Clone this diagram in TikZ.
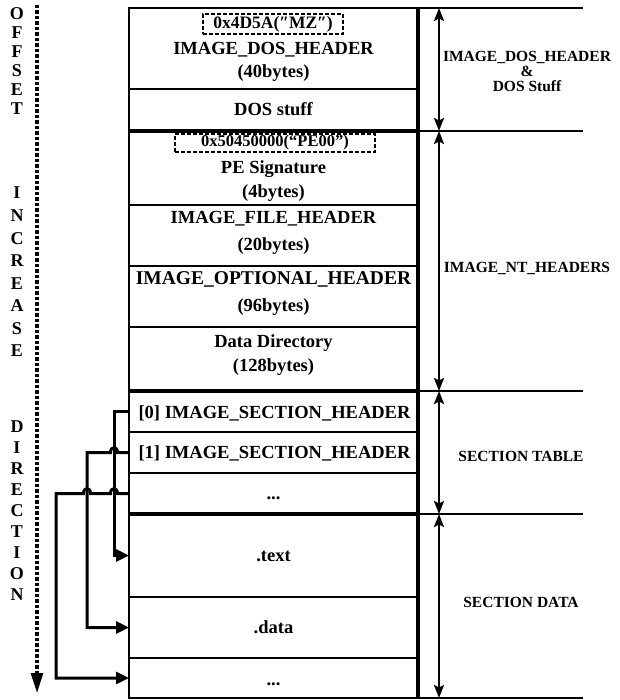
\documentclass[tikz,border=0pt]{standalone}
\usepackage{fontspec}
\setmainfont{Liberation Serif}
\usetikzlibrary{arrows.meta}
\begin{document}
\begin{tikzpicture}[x=1pt,y=-1pt,
  row/.style={draw, line width=2pt, minimum width=289pt, anchor=north west, inner sep=0pt, outer sep=0pt},
  txt/.style={font=\fontsize{18.5}{20}\selectfont\bfseries, anchor=base, inner sep=0pt},
  rlab/.style={font=\fontsize{15.5}{15}\selectfont\bfseries, anchor=base, inner sep=0pt},
  letter/.style={font=\fontsize{18}{18}\selectfont\bfseries, anchor=base, inner sep=0pt},
  dbox/.style={draw, dash pattern=on 4pt off 2pt, line width=2.2pt, inner sep=0pt, minimum height=20pt, font=\fontsize{17.5}{18}\selectfont\bfseries},
  sepline/.style={line width=3.2pt},
  guide/.style={line width=1.6pt},
  dbl/.style={line width=2.4pt, {Stealth[length=13pt,width=10pt,inset=2.5pt]}-{Stealth[length=13pt,width=10pt,inset=2.5pt]}},
  ptr/.style={line width=3pt, -{Triangle[length=13pt,width=12pt]}, line join=miter},
  offarrow/.style={line width=3.2pt, dash pattern=on 3.5pt off 2pt, -{Triangle[length=20pt,width=12pt]}},
]
\useasboundingbox (0,0) rectangle (619,700);

% rows of the main column
\node[row, minimum height=81pt] (r1) at (129,8) {};
\node[row, minimum height=42pt] (r2) at (129,89) {};
\node[row, minimum height=74pt] (r3) at (129,131) {};
\node[row, minimum height=61pt] (r4) at (129,205) {};
\node[row, minimum height=61pt] (r5) at (129,266) {};
\node[row, minimum height=64pt] (r6) at (129,327) {};
\node[row, minimum height=41pt] (r7) at (129,391) {};
\node[row, minimum height=41pt] (r8) at (129,432) {};
\node[row, minimum height=41pt] (r9) at (129,473) {};
\node[row, minimum height=83pt] (r10) at (129,514) {};
\node[row, minimum height=61pt] (r11) at (129,597) {};
\node[row, minimum height=40pt] (r12) at (129,658) {};

% thick separators and right border
\draw[sepline] (r2.south west) -- (r2.south east);
\draw[sepline] (r6.south west) -- (r6.south east);
\draw[sepline] (r9.south west) -- (r9.south east);
\draw[line width=3.2pt] (r1.north east) -- (r12.south east);

% texts in the column
\node[dbox, minimum width=140pt] (mz) at (273,24) {0x4D5A(″MZ″)};
\node[txt] (t1) at (273.5,55) {IMAGE\_DOS\_HEADER};
\node[txt] (t2) at (273.5,78) {(40bytes)};
\node[txt] (t3) at (273.5,116) {DOS stuff};
\node[dbox, minimum width=200pt, minimum height=18pt, font=\fontsize{16.5}{17}\selectfont\bfseries] (pe) at (275,143) {0x50450000(“PE00”)\hspace{12pt}};
\node[txt] (t4) at (273.5,174) {PE Signature};
\node[txt] (t5) at (273.5,198) {(4bytes)};
\node[txt] (t6) at (273.5,224) {IMAGE\_FILE\_HEADER};
\node[txt] (t7) at (273.5,251) {(20bytes)};
\node[txt, font=\fontsize{19.5}{20}\selectfont\bfseries] (t8) at (273.5,284) {IMAGE\_OPTIONAL\_HEADER};
\node[txt] (t9) at (273.5,311) {(96bytes)};
\node[txt] (t10) at (273.5,347) {Data Directory};
\node[txt] (t11) at (273.5,371) {(128bytes)};
\node[txt] (t12) at (274.5,418) {[0] IMAGE\_SECTION\_HEADER};
\node[txt] (t13) at (274.5,458) {[1] IMAGE\_SECTION\_HEADER};
\node[txt] (t14) at (273.5,499) {...};
\node[txt] (t15) at (273.5,561) {.text};
\node[txt] (t16) at (273.5,633) {.data};
\node[txt] (t17) at (273.5,685) {...};

% right side guides and ranges
\coordinate (g0) at (583,8);
\coordinate (g1) at (583,131);
\coordinate (g2) at (583,391);
\coordinate (g3) at (583,514);
\coordinate (g4) at (583,698);
\draw[guide] (r1.north east) -- (g0);
\draw[guide] (r2.south east) -- (g1);
\draw[guide] (r6.south east) -- (g2);
\draw[guide] (r9.south east) -- (g3);
\draw[guide] (r12.south east) -- (g4);
\coordinate (a0) at (439,8);
\coordinate (a1) at (439,131);
\coordinate (a2) at (439,391);
\coordinate (a3) at (439,514);
\coordinate (a4) at (439,698);
\draw[dbl] (a0) -- (a1);
\draw[dbl] (a1) -- (a2);
\draw[dbl] (a2) -- (a3);
\draw[dbl] (a3) -- (a4);
\node[rlab, align=center, anchor=center] (l1) at (527,71) {IMAGE\_DOS\_HEADER\\\&\\DOS Stuff};
\node[rlab] (l2) at (527,272) {IMAGE\_NT\_HEADERS};
\node[rlab] (l3) at (521,461) {SECTION TABLE};
\node[rlab] (l4) at (521,607) {SECTION DATA};

% left: offset increase direction
\coordinate (dtop) at (37,5);
\coordinate (dbot) at (37,693);
\draw[offarrow] (dtop) -- (dbot);
\foreach \ch/\yy [count=\i] in {O/14,F/33,F/52,S/71,E/90,T/109,
  I/193,N/215.5,C/238,R/260.5,E/283,A/305.5,S/328,E/350.5,
  D/426,I/447,R/468,E/489,C/510,T/531,I/552,O/573,N/594}
  \node[letter] (L\i) at (17,\yy+6) {\ch};

% pointers from section headers to section data
\draw[ptr] (r7.west) -- (114,411.5) |- (r10.west);
\draw[ptr] (r8.west) -- (117.5,452.5) .. controls (117.5,446) and (110.5,446) .. (110.5,452.5)
  -- (87,452.5) |- (r11.west);
\draw[ptr] (r9.west) -- (117.5,493.5) .. controls (117.5,487) and (110.5,487) .. (110.5,493.5)
  -- (90.5,493.5) .. controls (90.5,487) and (83.5,487) .. (83.5,493.5)
  -- (56,493.5) |- (r12.west);
\end{tikzpicture}
\end{document}
